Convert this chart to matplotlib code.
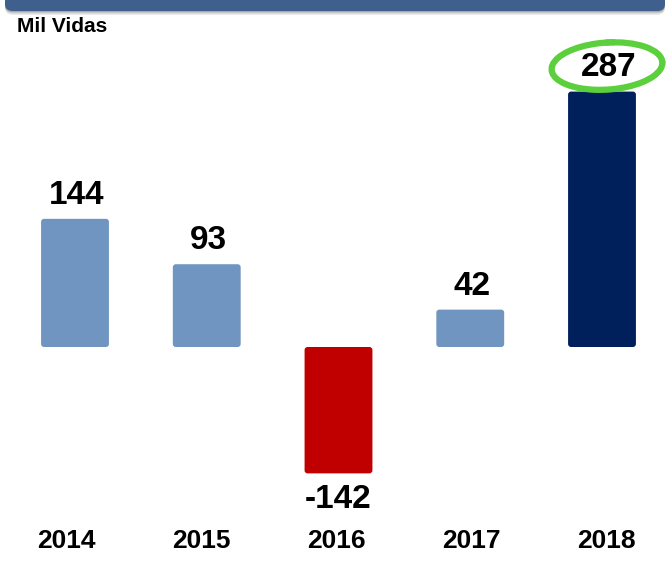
import numpy as np
import matplotlib
matplotlib.use('Agg')
import matplotlib.pyplot as plt
from matplotlib.patches import FancyBboxPatch, Arc
from matplotlib.transforms import ScaledTranslation

plt.rcParams['font.family'] = ['Liberation Sans', 'DejaVu Sans']

years = ['2014', '2015', '2016', '2017', '2018']
vidas = [144, 93, -142, 42, 287]
colors = ['#6f95c0', '#6f95c0', '#c00000', '#6f95c0', '#00205b']

W, H = 669, 563
fig = plt.figure(figsize=(W / 100, H / 100), dpi=100)
ax = fig.add_axes([0, 0, 1, 1])

# pixel scales of the original chart
px_x = 131.75     # px per category
px_y = 0.89       # px per thousand lives
base = 347        # baseline, px from top
x0 = 75           # centre of first bar, px from left
ax.set_xlim(-x0 / px_x, (W - x0) / px_x)
ax.set_ylim(-(H - base) / px_y, base / px_y)
ax.axis('off')

x = np.arange(len(years))
bars = ax.bar(x, vidas, width=0.515, color=colors)

r = 3.0 / px_x
for b in bars:
    b.set_visible(False)
    y0 = min(b.get_y(), b.get_y() + b.get_height())
    p = FancyBboxPatch((b.get_x(), y0), b.get_width(), abs(b.get_height()),
                       boxstyle=f'round,pad=0,rounding_size={r}',
                       mutation_aspect=px_x / px_y,
                       fc=b.get_facecolor(), ec='none')
    ax.add_patch(p)

for i, v in enumerate(vidas):
    kw = dict(ha='center', va='center', fontsize=24, fontweight='bold',
              textcoords='offset points', annotation_clip=False)
    if v >= 0:
        dx = 5 if i == len(vidas) - 1 else 1.5
        ax.annotate(str(v), (i, v), xytext=(dx, 17), **kw)
    else:
        ax.annotate(str(v), (i, v), xytext=(0, -19), **kw)

# green highlight stroke around the last value
last = len(vidas) - 1
tr = fig.dpi_scale_trans + ScaledTranslation(last, vidas[last], ax.transData)
for t1, t2, lw in [(70, 360, 4.5), (0, 88, 4.5), (88, 118, 2.2)]:
    ax.add_patch(Arc((0.05, 0.255), 1.11, 0.47, angle=4, theta1=t1, theta2=t2,
                     transform=tr, color='#5cd03c', lw=lw, clip_on=False,
                     capstyle='round'))

# year labels sit on a slightly wider spacing than the bars
for i, y in enumerate(years):
    ax.annotate(y, (i, -(541 - base) / px_y), xytext=(((i - 2) * 3.4 - 2) * 0.72, 0),
                textcoords='offset points', ha='center', va='center',
                fontsize=19, fontweight='bold')

fig.text(17 / W, 1 - 26 / H, 'Mil Vidas', ha='left', va='center',
         fontsize=15, fontweight='bold')

# header strip with shadow
for dy, a in [(4, 0.08), (2.5, 0.12), (1.2, 0.18)]:
    fig.patches.append(FancyBboxPatch((5 / W, 1 - (11 + dy) / H), 660 / W, 30 / H,
                                      boxstyle='round,pad=0,rounding_size=0.012',
                                      transform=fig.transFigure, fc='black',
                                      alpha=a, ec='none'))
fig.patches.append(FancyBboxPatch((5 / W, 1 - 11 / H), 660 / W, 30 / H,
                                  boxstyle='round,pad=0,rounding_size=0.012',
                                  transform=fig.transFigure, fc='#3f608c',
                                  ec='none'))

plt.savefig('out.png', dpi=100)
